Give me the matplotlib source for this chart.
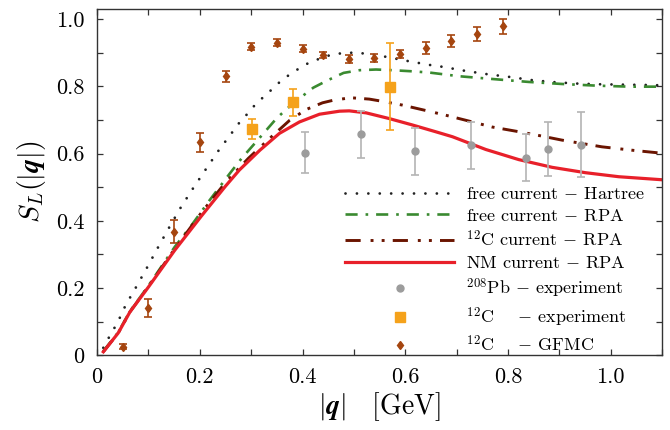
import matplotlib
matplotlib.use("Agg")
import matplotlib.pyplot as plt
from matplotlib.ticker import MultipleLocator, FuncFormatter

# fuentes tipo LaTeX
plt.rcParams['font.family'] = 'serif'
plt.rcParams['font.serif'] = ['cmr10']
plt.rcParams['mathtext.fontset'] = 'cm'
plt.rcParams['axes.formatter.use_mathtext'] = True

# curvas teoricas (q en GeV)
q_hartree = [0.012, 0.023, 0.034, 0.045, 0.054, 0.065, 0.076, 0.087, 0.098,
             0.119, 0.141, 0.163, 0.187, 0.212, 0.237, 0.264, 0.278, 0.292,
             0.307, 0.323, 0.339, 0.355, 0.373, 0.391, 0.410, 0.431, 0.452,
             0.474, 0.496, 0.518, 0.562, 0.606, 0.628, 0.650, 0.673, 0.717,
             0.760, 0.803, 0.849, 0.893, 0.937, 0.981, 1.025, 1.07, 1.1]
s_hartree = [0.022, 0.053, 0.082, 0.114, 0.144, 0.174, 0.203, 0.233, 0.263,
             0.322, 0.382, 0.440, 0.497, 0.554, 0.610, 0.665, 0.694, 0.717,
             0.744, 0.767, 0.789, 0.812, 0.833, 0.851, 0.868, 0.881, 0.892,
             0.898, 0.900, 0.898, 0.888, 0.875, 0.869, 0.863, 0.858, 0.846,
             0.836, 0.828, 0.818, 0.812, 0.808, 0.806, 0.805, 0.804, 0.803]

q_rpa = [0.012, 0.041, 0.064, 0.100, 0.151, 0.184, 0.219, 0.258, 0.281,
         0.304, 0.324, 0.349, 0.370, 0.394, 0.421, 0.449, 0.480, 0.511,
         0.543, 0.575, 0.610, 0.647, 0.705, 0.776, 0.841, 0.905, 0.973,
         1.038, 1.1]
s_rpa = [0.012, 0.068, 0.131, 0.207, 0.322, 0.387, 0.461, 0.540, 0.585,
         0.625, 0.660, 0.704, 0.734, 0.764, 0.796, 0.818, 0.840, 0.848,
         0.850, 0.848, 0.845, 0.841, 0.830, 0.821, 0.813, 0.807, 0.802,
         0.799, 0.799]

q_c12 = [0.012, 0.041, 0.064, 0.100, 0.151, 0.203, 0.250, 0.294, 0.336,
         0.375, 0.407, 0.439, 0.461, 0.494, 0.530, 0.553, 0.595, 0.643,
         0.679, 0.718, 0.769, 0.821, 0.856, 0.905, 0.983, 1.041, 1.08, 1.1]
s_c12 = [0.010, 0.066, 0.129, 0.205, 0.316, 0.424, 0.514, 0.585, 0.645,
         0.699, 0.731, 0.751, 0.759, 0.766, 0.762, 0.756, 0.744, 0.727,
         0.714, 0.699, 0.679, 0.665, 0.655, 0.640, 0.620, 0.610, 0.604,
         0.601]

q_nm = [0.012, 0.041, 0.064, 0.100, 0.151, 0.203, 0.250, 0.277, 0.317,
        0.355, 0.394, 0.433, 0.472, 0.491, 0.524, 0.569, 0.614, 0.659,
        0.692, 0.757, 0.821, 0.886, 0.951, 1.016, 1.1]
s_nm = [0.010, 0.066, 0.129, 0.203, 0.312, 0.414, 0.503, 0.551, 0.610,
        0.660, 0.694, 0.717, 0.726, 0.727, 0.721, 0.704, 0.685, 0.665,
        0.650, 0.612, 0.582, 0.559, 0.543, 0.531, 0.522]

# datos experimentales
q_pb = [0.405, 0.513, 0.619, 0.728, 0.835, 0.878, 0.943]
s_pb = [0.603, 0.658, 0.607, 0.625, 0.588, 0.613, 0.626]
e_pb = [0.060, 0.070, 0.070, 0.070, 0.070, 0.080, 0.097]

q_cexp = [0.301, 0.381, 0.571]
s_cexp = [0.674, 0.753, 0.799]
e_cexp = [0.030, 0.040, 0.130]

q_gfmc = [0.05, 0.10, 0.15, 0.20, 0.25, 0.30, 0.35, 0.40, 0.44, 0.49, 0.54,
          0.59, 0.64, 0.69, 0.74, 0.79]
s_gfmc = [0.025, 0.141, 0.367, 0.633, 0.830, 0.918, 0.930, 0.912, 0.893,
          0.882, 0.884, 0.896, 0.914, 0.934, 0.956, 0.979]
e_gfmc = [0.008, 0.027, 0.034, 0.027, 0.016, 0.010, 0.010, 0.010, 0.010,
          0.012, 0.012, 0.013, 0.017, 0.018, 0.021, 0.022]

fig = plt.figure(figsize=(6.7, 4.3), dpi=100)
ax = fig.add_axes([0.145, 0.174, 0.843, 0.805])

# lineas
ax.plot(q_hartree, s_hartree, color='#222222', lw=2.0,
        linestyle=(0, (0.01, 4.1)), dash_capstyle='round',
        label=r'free current $-$ Hartree')
ax.plot(q_rpa, s_rpa, color='#3a8a30', lw=1.9,
        linestyle=(0, (4.6, 3.0, 1.0, 3.0)),
        label=r'free current $-$ RPA')
ax.plot(q_c12, s_c12, color='#6a1400', lw=2.1,
        linestyle=(0, (5.2, 3.4, 1.0, 2.8, 1.0, 2.8)),
        label=r'$^{12}$C current $-$ RPA')
ax.plot(q_nm, s_nm, color='#e8202a', lw=2.3,
        label=r'NM current $-$ RPA')

# barras de error
ax.errorbar(q_pb, s_pb, yerr=e_pb, fmt='none', ecolor='#b4b4b4',
            elinewidth=1.2, capsize=3, capthick=1.2, zorder=4)
ax.errorbar(q_cexp, s_cexp, yerr=e_cexp, fmt='none', ecolor='#f5a21b',
            elinewidth=1.2, capsize=3, capthick=1.2, zorder=4)
ax.errorbar(q_gfmc, s_gfmc, yerr=e_gfmc, fmt='none', ecolor='#a5450f',
            elinewidth=1.2, capsize=3, capthick=1.2, zorder=4)

# puntos
ax.plot(q_pb, s_pb, 'o', color='#9c9c9c', ms=5, zorder=5,
        label=r'$^{208}$Pb $-$ experiment')
ax.plot(q_cexp, s_cexp, 's', color='#f5a21b', ms=6.5, zorder=5,
        label=r'$^{12}$C    $-$ experiment')
ax.plot(q_gfmc, s_gfmc, 'd', color='#a5450f', ms=4.5, zorder=5,
        label=r'$^{12}$C    $-$ GFMC')

ax.set_xlim(0, 1.1)
ax.set_ylim(0, 1.03)

fmt = FuncFormatter(lambda v, p: '0' if abs(v) < 1e-9 else '%.1f' % v)
ax.xaxis.set_major_locator(MultipleLocator(0.2))
ax.xaxis.set_minor_locator(MultipleLocator(0.1))
ax.yaxis.set_major_locator(MultipleLocator(0.2))
ax.yaxis.set_minor_locator(MultipleLocator(0.1))
ax.xaxis.set_major_formatter(fmt)
ax.yaxis.set_major_formatter(fmt)
ax.tick_params(which='both', direction='in', top=True, right=True,
               length=4.5, width=0.9, color='#333333', labelsize=16)
ax.tick_params(axis='x', pad=9)
ax.tick_params(axis='y', pad=9)
for s in ax.spines.values():
    s.set_color('#333333')
    s.set_linewidth(1.0)

ax.set_xlabel(r'$|\boldsymbol{q}|\quad$[GeV]', fontsize=20, labelpad=2)
ax.set_ylabel(r'$S_L(|\boldsymbol{q}|)$', fontsize=20, labelpad=6)

ax.legend(loc='lower right', bbox_to_anchor=(0.99, -0.03), frameon=False,
          fontsize=13, handlelength=6.0, handletextpad=0.7,
          labelspacing=0.3, numpoints=1, borderaxespad=0.2)

fig.savefig('out.png', dpi=100)
